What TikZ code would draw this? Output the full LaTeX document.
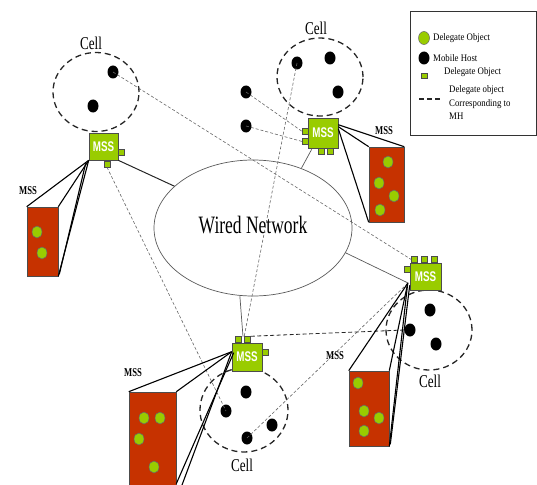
\documentclass[tikz,border=0pt]{standalone}
\usepackage{fontspec}
\usepackage{graphicx}
\setmainfont{Liberation Serif}
\setsansfont{Liberation Sans}
\usetikzlibrary{shapes.geometric,calc}
\definecolor{mssgreen}{RGB}{153,204,0}
\definecolor{storered}{RGB}{198,50,0}
\begin{document}
\begin{tikzpicture}[x=1pt,y=-1pt,
  mss/.style={rectangle, draw=black!70, fill=mssgreen, line width=0.6pt, inner sep=0pt,
    text=white, font=\sffamily\bfseries\fontsize{14}{14}\selectfont},
  port/.style={rectangle, draw=black!70, fill=mssgreen, line width=0.5pt, minimum size=6pt, inner sep=0pt},
  host/.style={ellipse, fill=black, minimum width=11pt, minimum height=13pt, inner sep=0pt},
  dobj/.style={ellipse, draw=black!60, fill=mssgreen, line width=0.5pt, minimum width=10pt, minimum height=12pt, inner sep=0pt},
  store/.style={rectangle, draw=black!70, fill=storered, line width=0.6pt, inner sep=0pt},
  cell/.style={ellipse, draw=black!85, line width=1.3pt, dash pattern=on 6pt off 4pt, inner sep=0pt},
  link/.style={draw=black!60, line width=0.6pt, dash pattern=on 3pt off 2pt},
  mhlink/.style={draw=black!85, line width=0.8pt, dash pattern=on 4pt off 2.5pt},
  wire/.style={draw=black!65, line width=0.7pt},
  fan/.style={draw=black, line width=1.1pt},
  lbl/.style={font=\fontsize{18}{18}\selectfont, xscale=0.73, inner sep=0pt},
  msslbl/.style={font=\bfseries\fontsize{12}{12}\selectfont, xscale=0.72, inner sep=0pt},
  legtext/.style={font=\fontsize{10}{13.5}\selectfont, xscale=0.88, anchor=west, align=left, inner sep=0pt},
]
\useasboundingbox (0,0) rectangle (537,484);
\clip (0,0) rectangle (537,484);

% ---- wired backbone ----
\node[ellipse, draw=black!65, line width=0.7pt, minimum width=198pt, minimum height=136pt, inner sep=0pt] (wn) at (253,228) {};
\node[font=\fontsize{25}{25}\selectfont, xscale=0.7] (wnt) at (253,225) {Wired Network};

% ---- cells and mobile hosts ----
\node[cell, minimum width=86pt, minimum height=79pt] (c1) at (96,92) {};
\node[lbl] (c1l) at (91,43) {Cell};
\node[host] (h11) at (113,72) {};
\node[host] (h12) at (93,106) {};

\node[cell, minimum width=86pt, minimum height=78pt] (c2) at (320,77) {};
\node[lbl] (c2l) at (316,28) {Cell};
\node[host] (h21) at (297,63) {};
\node[host] (h22) at (330,58) {};
\node[host] (h23) at (338,92) {};
\node[host] (h24) at (246,92) {};
\node[host] (h25) at (246,126) {};

\node[cell, minimum width=86pt, minimum height=80pt] (c3) at (429,330) {};
\node[lbl] (c3l) at (430,381) {Cell};
\node[host] (h31) at (430,310) {};
\node[host] (h32) at (410,330) {};
\node[host] (h33) at (436,344) {};

\node[cell, minimum width=88pt, minimum height=84pt] (c4) at (244,410) {};
\node[lbl] (c4l) at (242,465) {Cell};
\node[host] (h41) at (246,392) {};
\node[host] (h42) at (226,411) {};
\node[host] (h43) at (272,425) {};
\node[host] (h44) at (247,438) {};

% ---- delegate stores ----
\node[store, minimum width=31pt, minimum height=69pt] (r1) at (42.5,241.5) {};
\node[dobj] (d11) at (37,232) {};
\node[dobj] (d12) at (42,253) {};
\node[msslbl] (r1l) at (28,191) {MSS};

\node[store, minimum width=35pt, minimum height=75pt] (r2) at (386.5,184.5) {};
\node[dobj] (d21) at (388,162) {};
\node[dobj] (d22) at (379,183) {};
\node[dobj] (d23) at (394,196) {};
\node[dobj] (d24) at (380,210) {};
\node[msslbl] (r2l) at (384,131) {MSS};

\node[store, minimum width=40pt, minimum height=75pt] (r3) at (369,408.5) {};
\node[dobj] (d31) at (358,383) {};
\node[dobj] (d32) at (364,411) {};
\node[dobj] (d33) at (379,418) {};
\node[dobj] (d34) at (364,431) {};
\node[msslbl] (r3l) at (335,356) {MSS};

\node[store, minimum width=47pt, minimum height=108pt] (r4) at (152.5,446) {};
\node[dobj] (d41) at (144,418) {};
\node[dobj] (d42) at (160,418) {};
\node[dobj] (d43) at (139,439) {};
\node[dobj] (d44) at (154,467) {};
\node[msslbl] (r4l) at (133,373) {MSS};

% ---- mobile support stations with their ports ----
\node[port] (m1r) at (121,152) {};
\node[port] (m1b) at (107,164) {};
\node[mss, minimum width=29pt, minimum height=27pt] (m1) at (103.5,146.5) {\scalebox{0.7}[1]{MSS}};

\node[port] (m2l1) at (305.5,131.5) {};
\node[port] (m2l2) at (305.5,141.5) {};
\node[port] (m2b1) at (321.5,151) {};
\node[port] (m2b2) at (330.5,151) {};
\node[mss, minimum width=30pt, minimum height=30pt] (m2) at (323,133) {\scalebox{0.7}[1]{MSS}};

\node[port] (m3p1) at (414.5,259.5) {};
\node[port] (m3p2) at (424.5,259.5) {};
\node[port] (m3p3) at (434.5,259.5) {};
\node[port] (m3l) at (407,269) {};
\node[mss, minimum width=31pt, minimum height=27pt] (m3) at (425.5,276.5) {\scalebox{0.7}[1]{MSS}};

\node[port] (m4p1) at (238.5,339.5) {};
\node[port] (m4p2) at (247.5,339.5) {};
\node[port] (m4r) at (265,352) {};
\node[mss, minimum width=30pt, minimum height=28pt] (m4) at (247,357) {\scalebox{0.7}[1]{MSS}};

% ---- wired links from the stations to the backbone ----
\draw[wire, line width=1pt, draw=black!85] (m1.south east) -- (wn.152);
\draw[wire] ($(m2.south west)+(4,1)$) -- (wn.51);
\draw[wire] ($(m3.south west)+(-1,-7)$) -- (wn.-15);
\draw[wire] ($(m4.north)+(-4,-6)$) -- (wn.-101);

% ---- delegate object links ----
\draw[link] (h11.center) -- (m3p1.west);
\draw[link] (h21.center) -- (m4p2.north west);
\draw[link] (m1b.south) -- (h42.center);
\draw[link] (h24.center) -- (m2l1.west);
\draw[link] (h25.center) -- (m2l2.west);
\draw[link] (h44.center) -- ($(m3.south west)+(-2,-7)$);
\draw[mhlink] (m4p2.north east) -- (h32.west);

% ---- projections from each station to its store ----
\draw[fan] (m1.south west) -- (r1.north west);
\draw[fan] (m1.south west) -- (r1.north east);
\draw[fan] (m1.south west) -- (r1.south east);
\draw[fan] ($(m1.south west)+(-3,3)$) -- ($(r1.south east)+(1,-2)$);

\draw[fan] ($(m2.north east)+(0,7)$) -- (r2.north east);
\draw[fan] ($(m2.north east)+(0,9)$) -- (r2.north west);
\draw[fan] ($(m2.north east)+(0,11)$) -- (r2.south west);

\draw[fan] ($(m3.south west)+(-2,-7)$) -- (r3.north west);
\draw[fan] ($(m3.south west)+(-2,-7)$) -- (r3.north east);
\draw[fan] ($(m3.south west)+(-2,-7)$) -- (r3.south east);
\draw[fan] ($(m3.south west)+(0,-5)$) -- ($(r3.south east)+(1,-2)$);

\draw[fan] ($(m4.north west)+(0,9)$) -- (r4.north west);
\draw[fan] ($(m4.north west)+(0,9)$) -- (r4.north east);
\draw[fan] ($(m4.north west)+(0,9)$) -- (r4.south east);
\draw[fan] ($(m4.north west)+(2,10)$) -- ($(r4.north east)+(0,92)$);

% ---- legend ----
\node[draw=black!80, line width=0.6pt, minimum width=126pt, minimum height=124pt, inner sep=0pt] (leg) at (473.5,73) {};
\node[dobj, minimum width=11pt, minimum height=13pt] (lg1) at (424,38) {};
\node[legtext] (lgt1) at (433,38) {Delegate Object};
\node[host] (lg2) at (424,58) {};
\node[legtext] (lgt2) at (433,58) {Mobile Host};
\node[port, minimum size=5.5pt] (lg3) at (424,76) {};
\node[legtext] (lgt3) at (444,72) {Delegate Object};
\coordinate (lgd1) at (419,99);
\coordinate (lgd2) at (442,99);
\draw[draw=black!85, line width=1.3pt, dash pattern=on 5pt off 3pt] (lgd1) -- (lgd2);
\node[legtext] (lgt4) at (449,103) {Delegate object\\Corresponding to\\MH};
\end{tikzpicture}
\end{document}
